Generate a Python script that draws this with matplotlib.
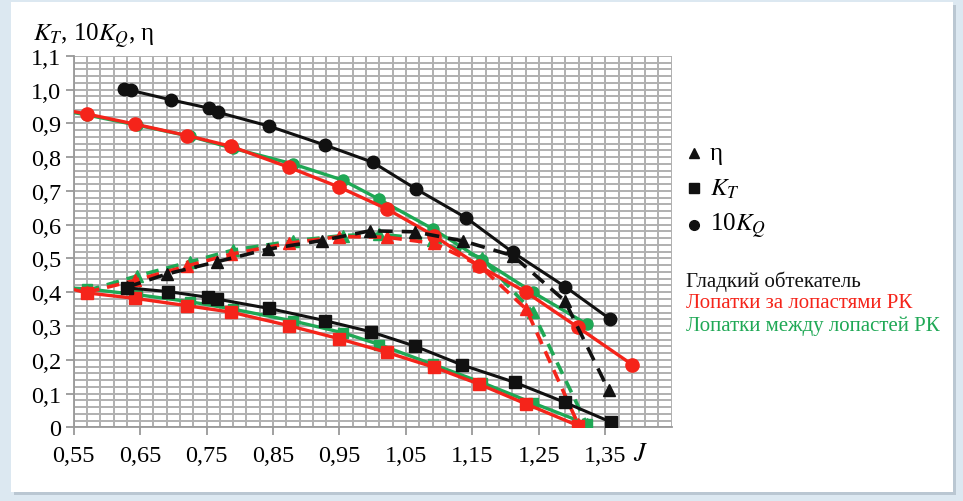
import matplotlib
matplotlib.use('Agg')
import matplotlib.pyplot as plt
from matplotlib.patches import Rectangle
import numpy as np

plt.rcParams['font.family'] = ['Liberation Serif', 'DejaVu Serif']
plt.rcParams['mathtext.fontset'] = 'stix'

# Гладкий обтекатель (чёрный)
J_kq_smooth = [0.625, 0.636, 0.696, 0.754, 0.767, 0.844, 0.928, 1.000, 1.065, 1.141, 1.211, 1.290, 1.357]
kq_smooth = [1.003, 0.998, 0.970, 0.945, 0.933, 0.892, 0.836, 0.785, 0.706, 0.620, 0.518, 0.416, 0.321]
J_kt_smooth = [0.630, 0.692, 0.752, 0.765, 0.844, 0.928, 0.997, 1.064, 1.134, 1.214, 1.289, 1.359]
kt_smooth = [0.413, 0.402, 0.385, 0.380, 0.352, 0.316, 0.283, 0.240, 0.185, 0.133, 0.074, 0.015]
J_eta_smooth = [0.630, 0.690, 0.765, 0.843, 0.923, 0.996, 1.063, 1.136, 1.211, 1.289, 1.355]
eta_smooth = [0.415, 0.454, 0.490, 0.528, 0.553, 0.582, 0.579, 0.552, 0.508, 0.375, 0.110]

# Лопатки за лопастями РК (красный); первая точка J=0,55 -- начало линии у оси
J_red = [0.55, 0.57, 0.642, 0.721, 0.787, 0.874, 0.950, 1.021, 1.092, 1.160, 1.231, 1.309]
kq_red = [0.935, 0.928, 0.898, 0.864, 0.832, 0.770, 0.711, 0.647, 0.568, 0.478, 0.400, 0.296]
kt_red = [0.408, 0.398, 0.382, 0.360, 0.341, 0.301, 0.262, 0.222, 0.178, 0.128, 0.069, 0.005]
eta_red = [None, 0.400, 0.435, 0.478, 0.513, 0.545, 0.565, 0.563, 0.545, 0.480, 0.350, 0.010]
J_kq_red_end = [1.391]
kq_red_end = [0.185]

# Лопатки между лопастей РК (зелёный)
J_green = [0.55, 0.57, 0.645, 0.725, 0.790, 0.880, 0.955, 1.010, 1.091, 1.165, 1.241, 1.322]
kq_green = [0.932, 0.925, 0.895, 0.862, 0.826, 0.780, 0.732, 0.675, 0.587, 0.495, 0.400, 0.306]
kt_green = [0.412, 0.410, 0.393, 0.372, 0.350, 0.315, 0.280, 0.245, 0.186, 0.132, 0.072, 0.010]
eta_green = [None, 0.405, 0.448, 0.490, 0.525, 0.552, 0.568, 0.572, 0.556, 0.500, 0.341, 0.010]

xticks = [0.55, 0.65, 0.75, 0.85, 0.95, 1.05, 1.15, 1.25, 1.35]
yticks = [0, 0.1, 0.2, 0.3, 0.4, 0.5, 0.6, 0.7, 0.8, 0.9, 1.0, 1.1]

RED = '#f5241a'
GREEN = '#1fa855'
BLACK = '#111111'

fig = plt.figure(figsize=(9.63, 5.02), dpi=100, facecolor='#dce8f1')
# белая подложка-карточка
fig.patches.append(Rectangle((14 / 963, 6 / 502), 942 / 963, 490 / 502, transform=fig.transFigure,
                             facecolor='#9aa8b4', edgecolor='none', alpha=0.5, zorder=-3))
fig.patches.append(Rectangle((11 / 963, 9 / 502), 942 / 963, 490 / 502, transform=fig.transFigure,
                             facecolor='white', edgecolor='none', zorder=-2))

ax = fig.add_axes([73.7 / 963, 1 - 428.3 / 502, 598 / 963, 371.4 / 502])
ax.set_facecolor('white')

every = list(range(1, len(J_red)))
dash = (0, (3.5, 2.2))
# зелёный
ax.plot(J_green, kq_green, color=GREEN, lw=2.4, marker='o', ms=8, markevery=every, zorder=3)
ax.plot(J_green, kt_green, color=GREEN, lw=2.4, marker='s', ms=7.5, markevery=every, zorder=3)
ax.plot(J_green[1:], eta_green[1:], color=GREEN, lw=2.6, ls=dash, marker='^', ms=8.5, zorder=3)
# красный
ax.plot(J_red + J_kq_red_end, kq_red + kq_red_end, color=RED, lw=2.4, marker='o', ms=9.5,
        markevery=list(range(1, len(J_red) + 1)), zorder=4)
ax.plot(J_red, kt_red, color=RED, lw=2.4, marker='s', ms=8, markevery=every, zorder=4)
ax.plot(J_red[1:], eta_red[1:], color=RED, lw=2.6, ls=dash, marker='^', ms=9, zorder=4)
# чёрный
ax.plot(J_kq_smooth, kq_smooth, color=BLACK, lw=2.2, marker='o', ms=9, zorder=5)
ax.plot(J_kt_smooth, kt_smooth, color=BLACK, lw=2.2, marker='s', ms=8.5, zorder=5)
ax.plot(J_eta_smooth, eta_smooth, color=BLACK, lw=2.6, ls=(0, (4, 2.5)), marker='^', ms=8.5, zorder=5)

ax.set_xlim(0.55, 1.45)
ax.set_ylim(0, 1.1)
ax.set_xticks(xticks)
ax.set_xticklabels([f'{t:.2f}'.replace('.', ',') for t in xticks])
ax.set_yticks(yticks)
ax.set_yticklabels(['0'] + [f'{t:.1f}'.replace('.', ',') for t in yticks[1:]])
ax.set_xticks(np.arange(0.55, 1.4501, 0.02), minor=True)
ax.set_yticks(np.arange(0, 1.1001, 0.02), minor=True)
ax.grid(True, which='both', color='#b0b0b0', lw=1.4, zorder=0)
ax.set_axisbelow(True)
ax.tick_params(axis='both', which='minor', length=0)
ax.tick_params(axis='both', which='major', length=6, width=1.3, color='#999999',
               labelsize=17.5, pad=3)
ax.tick_params(axis='x', pad=7)
for s in ['top', 'right']:
    ax.spines[s].set_visible(False)
for s in ['left', 'bottom']:
    ax.spines[s].set_color('#999999')
    ax.spines[s].set_linewidth(1.3)

fig.text(33 / 963, 1 - 36 / 502, r'$K_T$, 10$K_Q$, η', fontsize=18, va='center', ha='left')
fig.text(641 / 963, 1 - 455 / 502, r'$J$', fontsize=19, va='center', ha='center')

# легенда
lx = 694 / 963
tx = 710 / 963
for y, m, lab in [(154, '^', 'η'), (189, 's', r'$K_T$'), (226, 'o', r'10$K_Q$')]:
    fig.lines.append(plt.Line2D([lx], [1 - y / 502], marker=m, color=BLACK, ms=7,
                                transform=fig.transFigure))
    fig.text(tx, 1 - y / 502, lab, fontsize=18, va='center', ha='left')

fig.text(686 / 963, 1 - 282 / 502, 'Гладкий обтекатель', fontsize=15, color=BLACK, va='center')
fig.text(686 / 963, 1 - 303.5 / 502, 'Лопатки за лопастями РК', fontsize=15, color=RED, va='center')
fig.text(686 / 963, 1 - 326 / 502, 'Лопатки между лопастей РК', fontsize=15, color=GREEN, va='center')

fig.savefig('out.png', dpi=100, facecolor=fig.get_facecolor())
